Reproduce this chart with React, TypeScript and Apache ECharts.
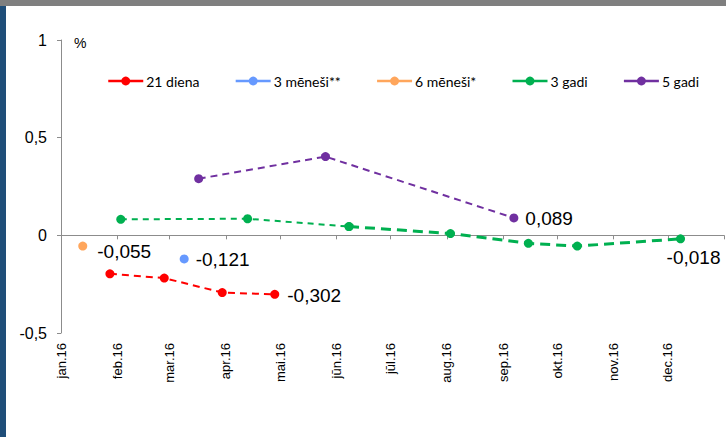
import React, { useEffect, useRef } from 'react';
import * as echarts from 'echarts';

// Tick labels
const monthLabels = ['jan.16', 'feb.16', 'mar.16', 'apr.16', 'mai.16', 'jūn.16', 'jūl.16', 'aug.16', 'sep.16', 'okt.16', 'nov.16', 'dec.16'];
const yMin = -0.5;
const yMax = 1;
const yInterval = 0.5;

// Series names
const seriesNames = ['21 diena', '3 mēneši**', '6 mēneši*', '3 gadi', '5 gadi'];

// 21 diena
const d21Dates = ['2016-01-28', '2016-02-27', '2016-03-30', '2016-04-28'];
const d21Values = [-0.197, -0.219, -0.293, -0.302];
// 3 mēneši**
const m3Dates = ['2016-03-09'];
const m3Values = [-0.121];
// 6 mēneši*
const m6Dates = ['2016-01-13'];
const m6Values = [-0.055];
// 3 gadi
const y3Dates = ['2016-02-03', '2016-04-13', '2016-06-08', '2016-08-03', '2016-09-15', '2016-10-12', '2016-12-08'];
const y3Values = [0.082, 0.085, 0.045, 0.009, -0.041, -0.055, -0.018];
// 5 gadi
const y5Dates = ['2016-03-17', '2016-05-26', '2016-09-07'];
const y5Values = [0.29, 0.403, 0.089];

const colors = {
  red: '#FF0000',
  blue: '#6699FF',
  orange: '#FFA65C',
  green: '#00B050',
  purple: '#7030A0',
};

const fmt = (v: number) => v.toFixed(3).replace('.', ',');

const valueLabel = (position: any, offset: number[], distance = 7) => ({
  show: true,
  position,
  offset,
  distance,
  formatter: (p: any) => fmt(p.value[1]),
  fontSize: 19,
  color: '#000',
  fontFamily: 'Liberation Sans, Arial, sans-serif',
});

function build(dates: string[], values: number[], labelIdx: number, label: any) {
  return dates.map((d, i) =>
    i === labelIdx ? { value: [d, values[i]], label } : { value: [d, values[i]] }
  );
}

const App: React.FC = () => {
  const ref = useRef<HTMLDivElement>(null);

  useEffect(() => {
    if (!ref.current) return;
    const chart = echarts.init(ref.current, null, { renderer: 'svg' });
    const DAY = 24 * 3600 * 1000;
    const xMin = new Date(2016, 0, 1).getTime();
    const xMax = new Date(2017, 0, 1).getTime();
    const font = 'Liberation Sans, Arial, sans-serif';

    const y3Split = 2;

    const option: any = {
      animation: false,
      backgroundColor: '#fff',
      grid: { left: 61, right: 2, top: 40, bottom: 104, containLabel: false },
      graphic: [
        { type: 'rect', left: 0, top: 0, shape: { width: 726, height: 6 }, style: { fill: '#7F7F7F' } },
        { type: 'rect', left: 0, top: 6, shape: { width: 6, height: 431 }, style: { fill: '#1F4E79' } },
        { type: 'text', left: 74, top: 36, style: { text: '%', fontSize: 14, fontFamily: font, fill: '#000' } },
      ],
      legend: {
        data: seriesNames,
        left: 102,
        top: 69,
        itemWidth: 35,
        itemHeight: 11,
        itemGap: 35,
        textStyle: { fontFamily: 'Lato, sans-serif', fontSize: 14, color: '#000', padding: [0, 0, 0, -2] },
        lineStyle: { type: 'solid', width: 2.5 },
      },
      xAxis: [
        {
          type: 'time',
          min: xMin,
          max: xMax,
          splitNumber: 12,
          minInterval: 28 * DAY,
          maxInterval: 31 * DAY,
          position: 'bottom',
          axisLine: { show: false, onZero: false },
          axisTick: { show: false },
          splitLine: { show: false },
          axisLabel: {
            rotate: 90,
            margin: 10,
            fontSize: 13,
            fontFamily: font,
            color: '#000',
            hideOverlap: false,
            formatter: (val: number) => {
              const d = new Date(val);
              if (d.getFullYear() !== 2016) return '';
              return monthLabels[d.getMonth()];
            },
          },
        },
        {
          type: 'time',
          min: xMin,
          max: xMax,
          splitNumber: 12,
          minInterval: 28 * DAY,
          maxInterval: 31 * DAY,
          position: 'bottom',
          axisLine: { show: true, onZero: true, lineStyle: { color: '#8C8C8C', width: 1 } },
          axisTick: { show: true, inside: false, length: 4, lineStyle: { color: '#8C8C8C' } },
          axisLabel: { show: false },
          splitLine: { show: false },
        },
      ],
      yAxis: {
        type: 'value',
        min: yMin,
        max: yMax,
        interval: yInterval,
        axisLine: { show: true, lineStyle: { color: '#8C8C8C', width: 1 } },
        axisTick: { show: true, length: 4, lineStyle: { color: '#8C8C8C' } },
        splitLine: { show: false },
        axisLabel: {
          margin: 14,
          fontSize: 16,
          fontFamily: font,
          color: '#000',
          formatter: (v: number) => String(v).replace('.', ','),
        },
      },
      series: [
        {
          name: seriesNames[0],
          type: 'line',
          symbol: 'circle',
          symbolSize: 9,
          itemStyle: { color: colors.red },
          lineStyle: { color: colors.red, width: 2, type: [7, 5] },
          data: build(d21Dates, d21Values, d21Dates.length - 1, valueLabel('right', [0, 1], 8)),
        },
        {
          name: seriesNames[1],
          type: 'line',
          symbol: 'circle',
          symbolSize: 9,
          itemStyle: { color: colors.blue },
          lineStyle: { color: colors.blue, width: 2 },
          data: build(m3Dates, m3Values, 0, valueLabel('right', [0, 1], 7)),
        },
        {
          name: seriesNames[2],
          type: 'line',
          symbol: 'circle',
          symbolSize: 9,
          itemStyle: { color: colors.orange },
          lineStyle: { color: colors.orange, width: 2 },
          data: build(m6Dates, m6Values, 0, valueLabel('right', [0, 5], 10)),
        },
        {
          name: seriesNames[3],
          type: 'line',
          symbol: 'circle',
          symbolSize: 9,
          itemStyle: { color: colors.green },
          lineStyle: { color: colors.green, width: 2, type: [6, 5] },
          data: build(y3Dates.slice(0, y3Split + 1), y3Values.slice(0, y3Split + 1), -1, null),
        },
        {
          name: seriesNames[3],
          type: 'line',
          symbol: 'circle',
          symbolSize: 9,
          itemStyle: { color: colors.green },
          lineStyle: { color: colors.green, width: 3, type: [10, 6] },
          data: build(
            y3Dates.slice(y3Split),
            y3Values.slice(y3Split),
            y3Dates.length - 1 - y3Split,
            valueLabel('bottom', [13, 0], 5)
          ),
        },
        {
          name: seriesNames[4],
          type: 'line',
          symbol: 'circle',
          symbolSize: 9,
          itemStyle: { color: colors.purple },
          lineStyle: { color: colors.purple, width: 2, type: [7, 5] },
          data: build(y5Dates, y5Values, y5Dates.length - 1, valueLabel('right', [0, 1], 7)),
        },
      ],
    };

    chart.setOption(option);
    return () => chart.dispose();
  }, []);

  return (
    <div
      ref={ref}
      style={{ position: 'fixed', left: 0, top: 0, width: 726, height: 437, background: '#fff' }}
    />
  );
};

export default App;
